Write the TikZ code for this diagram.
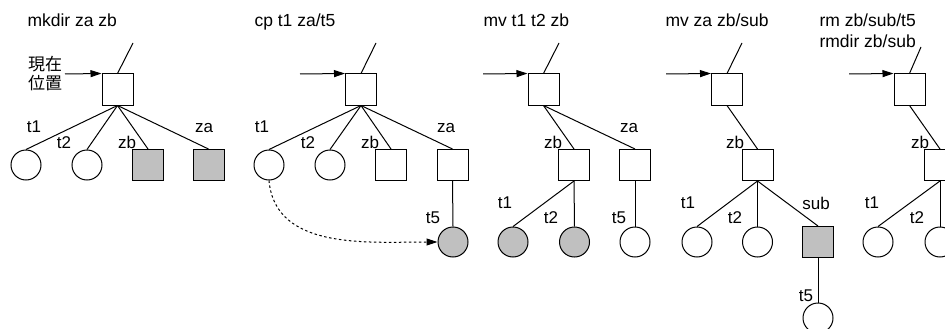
\documentclass[tikz,border=0pt]{standalone}
\usepackage{fontspec}
\setmainfont{Liberation Sans}
\newfontfamily\jpfont{Noto Sans CJK JP}
\usetikzlibrary{arrows.meta}
\definecolor{NewGray}{HTML}{C0C0C0}

\begin{document}
\begin{tikzpicture}[x=1pt, y=-1pt, line width=1pt,
  dir/.style={draw, minimum size=31pt, inner sep=0pt},
  fil/.style={draw, circle, minimum size=30pt, inner sep=0pt},
  new/.style={fill=NewGray},
  lbl/.style={inner sep=0pt, font=\fontsize{17}{20}\selectfont},
  cmd/.style={anchor=base west, inner sep=0pt,
              font=\fontsize{17.5}{21.5}\selectfont},
  arr/.style={-{Triangle[length=11pt, width=7pt]}}]
  \useasboundingbox (0,0) rectangle (945,329);
  \clip (0,0) rectangle (945,329);

  % mkdir za zb
  \node[cmd] (cmd1) at (27,27) {mkdir za zb};
  \node[dir] (r1) at (117.5,89.5) {};
  \coordinate (up1) at (133,43);
  \coordinate (in1) at (65,74);
  \node[inner sep=0pt, align=left, font=\jpfont\fontsize{17}{19}\selectfont] (here) at (45,74) {現在\\位置};
  \node[fil] (a1) at (26,165) {};
  \node[fil] (a2) at (87,165) {};
  \node[dir, new] (a3) at (148,165) {};
  \node[dir, new] (a4) at (208.5,165) {};
  \draw (r1.north) -- (up1);
  \draw[arr] (in1) -- (r1.north west);
  \draw (r1.south) -- (a1.north);
  \draw (r1.south) -- (a2.north);
  \draw (r1.south) -- (a3.north);
  \draw (r1.south) -- (a4.north);
  \node[lbl] at (34,127) {t1};
  \node[lbl] at (64,143) {t2};
  \node[lbl] at (127,142) {zb};
  \node[lbl] at (204,128) {za};

  % cp t1 za/t5
  \node[cmd] (cmd2) at (254,27) {cp t1 za/t5};
  \node[dir] (r2) at (361,89.5) {};
  \coordinate (up2) at (376,43);
  \coordinate (in2) at (300,74);
  \node[fil] (b1) at (269,165) {};
  \node[fil] (b2) at (330,165) {};
  \node[dir] (b3) at (391,165) {};
  \node[dir] (b4) at (452.5,165) {};
  \node[fil, new] (b5) at (453,242) {};
  \draw (r2.north) -- (up2);
  \draw[arr] (in2) -- (r2.north west);
  \draw (r2.south) -- (b1.north);
  \draw (r2.south) -- (b2.north);
  \draw (r2.south) -- (b3.north);
  \draw (r2.south) -- (b4.north);
  \draw (b4.south) -- (b5.north);
  \draw[arr, dash pattern=on 2.5pt off 2.5pt] (b1.south) to[out=-85, in=180] (b5.west);
  \node[lbl] at (262,127) {t1};
  \node[lbl] at (308,143) {t2};
  \node[lbl] at (370,142) {zb};
  \node[lbl] at (446,128) {za};
  \node[lbl] at (433,218) {t5};

  % mv t1 t2 zb
  \node[cmd] (cmd3) at (483,27) {mv t1 t2 zb};
  \node[dir] (r3) at (543.5,89.5) {};
  \coordinate (up3) at (559,43);
  \coordinate (in3) at (483,74);
  \node[dir] (c1) at (574,165) {};
  \node[dir] (c2) at (635,165) {};
  \node[fil, new] (c3) at (513,242) {};
  \node[fil, new] (c4) at (574.5,242) {};
  \node[fil] (c5) at (635,242) {};
  \draw (r3.north) -- (up3);
  \draw[arr] (in3) -- (r3.north west);
  \draw (r3.south) -- (c1.north);
  \draw (r3.south) -- (c2.north);
  \draw (c1.south) -- (c3.north);
  \draw (c1.south) -- (c4.north);
  \draw (c2.south) -- (c5.north);
  \node[lbl] at (553,142) {zb};
  \node[lbl] at (629,128) {za};
  \node[lbl] at (505,203) {t1};
  \node[lbl] at (551,218) {t2};
  \node[lbl] at (619,218) {t5};

  % mv za zb/sub
  \node[cmd] (cmd4) at (665,27) {mv za zb/sub};
  \node[dir] (r4) at (727,89.5) {};
  \coordinate (up4) at (742,43);
  \coordinate (in4) at (666,74);
  \node[dir] (d1) at (757.5,165) {};
  \node[fil] (d2) at (697,242) {};
  \node[fil] (d3) at (757.5,242) {};
  \node[dir, new] (d4) at (818,242) {};
  \node[fil] (d5) at (818,318) {};
  \draw (r4.north) -- (up4);
  \draw[arr] (in4) -- (r4.north west);
  \draw (r4.south) -- (d1.north);
  \draw (d1.south) -- (d2.north);
  \draw (d1.south) -- (d3.north);
  \draw (d1.south) -- (d4.north);
  \draw (d4.south) -- (d5.north);
  \node[lbl] at (735,142) {zb};
  \node[lbl] at (688,203) {t1};
  \node[lbl] at (735,218) {t2};
  \node[lbl] at (816,203) {sub};
  \node[lbl] at (806,296) {t5};

  % rm zb/sub/t5, rmdir zb/sub
  \node[cmd] (cmd5) at (819,26.5) {rm zb/sub/t5};
  \node[cmd] (cmd6) at (819,48) {rmdir zb/sub};
  \node[dir] (r5) at (909.5,89.5) {};
  \coordinate (up5) at (921,47);
  \coordinate (in5) at (849,74);
  \node[dir] (e1) at (940,165) {};
  \node[fil] (e2) at (878,242) {};
  \node[fil] (e3) at (940,242) {};
  \draw (r5.north) -- (up5);
  \draw[arr] (in5) -- (r5.north west);
  \draw (r5.south) -- (e1.north);
  \draw (e1.south) -- (e2.north);
  \draw (e1.south) -- (e3.north);
  \node[lbl] at (920,142) {zb};
  \node[lbl] at (872,203) {t1};
  \node[lbl] at (917,218) {t2};
\end{tikzpicture}
\end{document}
